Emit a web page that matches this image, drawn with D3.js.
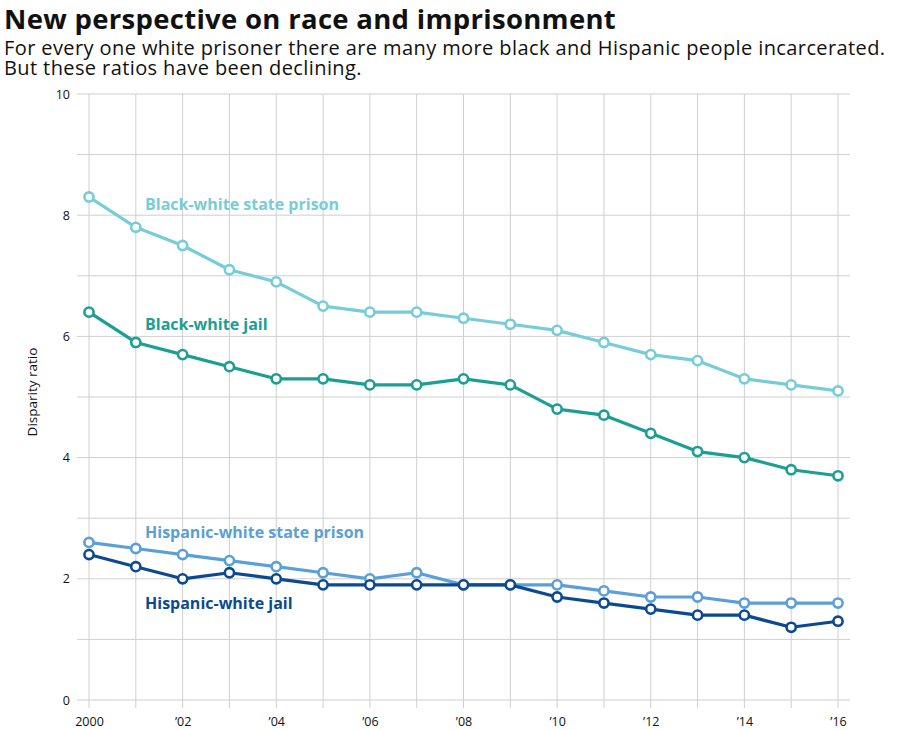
<!DOCTYPE html>
<html>
<head>
<meta charset="utf-8">
<script src="https://cdn.jsdelivr.net/npm/d3@7"></script>
<style>
  body { margin: 0; background: #fff; }
  text { font-family: "Open Sans", "Noto Sans", sans-serif; }
</style>
</head>
<body>
<div id="chart"></div>
<script>
// Data
const years = d3.range(2000, 2017);
const blackStatePrison = [8.3, 7.8, 7.5, 7.1, 6.9, 6.5, 6.4, 6.4, 6.3, 6.2, 6.1, 5.9, 5.7, 5.6, 5.3, 5.2, 5.1];
const blackJail = [6.4, 5.9, 5.7, 5.5, 5.3, 5.3, 5.2, 5.2, 5.3, 5.2, 4.8, 4.7, 4.4, 4.1, 4.0, 3.8, 3.7];
const hispStatePrison = [2.6, 2.5, 2.4, 2.3, 2.2, 2.1, 2.0, 2.1, 1.9, 1.9, 1.9, 1.8, 1.7, 1.7, 1.6, 1.6, 1.6];
const hispJail = [2.4, 2.2, 2.0, 2.1, 2.0, 1.9, 1.9, 1.9, 1.9, 1.9, 1.7, 1.6, 1.5, 1.4, 1.4, 1.2, 1.3];
const seriesNames = ["Black-white state prison", "Black-white jail", "Hispanic-white state prison", "Hispanic-white jail"];
const yTicks = [0, 2, 4, 6, 8, 10];
const xTickLabels = ["2000", "\u201902", "\u201904", "\u201906", "\u201908", "\u201910", "\u201912", "\u201914", "\u201916"];

const series = [
  { name: seriesNames[0], values: blackStatePrison, color: "#76cdd8", labelAt: 8.09 },
  { name: seriesNames[1], values: blackJail, color: "#1b9e94", labelAt: 6.1 },
  { name: seriesNames[2], values: hispStatePrison, color: "#5b9fd9", labelAt: 2.67 },
  { name: seriesNames[3], values: hispJail, color: "#0b4a91", labelAt: 1.5 }
];

// Dimensions
const width = 900;
const height = 730;

const svg = d3.select("#chart")
  .append("svg")
    .attr("width", width)
    .attr("height", height);

const xScale = d3.scaleLinear()
  .domain([2000, 2016])
  .range([89, 838]);
const yScale = d3.scaleLinear()
  .domain([0, 10])
  .range([700, 94]);

// Titles
svg.append("text")
  .attr("x", 4)
  .attr("y", 29)
  .attr("font-size", 27.5)
  .attr("font-weight", 700)
  .attr("letter-spacing", 0.3)
  .attr("fill", "#111")
  .text("New perspective on race and imprisonment");
const subtitle = svg.append("text")
  .attr("font-size", 20)
  .attr("letter-spacing", 0.4)
  .attr("fill", "#111");
subtitle.append("tspan")
  .attr("x", 4)
  .attr("y", 55)
  .text("For every one white prisoner there are many more black and Hispanic people incarcerated.");
subtitle.append("tspan")
  .attr("x", 4)
  .attr("y", 75)
  .text("But these ratios have been declining.");

// Grid
const grid = svg.append("g").attr("class", "grid");
grid.selectAll(".hline")
  .data(d3.range(0, 11))
  .join("line")
    .attr("x1", 77)
    .attr("x2", 850)
    .attr("y1", d => yScale(d))
    .attr("y2", d => yScale(d))
    .attr("stroke", "#cfcfcf")
    .attr("stroke-width", 1);
grid.selectAll(".vline")
  .data(years)
  .join("line")
    .attr("x1", d => xScale(d))
    .attr("x2", d => xScale(d))
    .attr("y1", yScale(10))
    .attr("y2", yScale(0) + 8)
    .attr("stroke", "#cfcfcf")
    .attr("stroke-width", 1);

// Axes
const leftAxis = d3.axisLeft(yScale)
  .tickValues(yTicks)
  .tickSize(0)
  .tickPadding(0)
  .tickFormat(d3.format("d"));
svg.append("g")
    .attr("class", "axis axis-y")
    .attr("transform", "translate(70, 0)")
    .call(leftAxis)
    .call(g => g.select(".domain").remove())
    .selectAll("text")
      .attr("font-size", 12.5)
      .attr("fill", "#111");

const bottomAxis = d3.axisBottom(xScale)
  .tickValues(d3.range(2000, 2017, 2))
  .tickSize(0)
  .tickPadding(0)
  .tickFormat((d, i) => xTickLabels[i]);
svg.append("g")
    .attr("class", "axis axis-x")
    .attr("transform", "translate(0, 717)")
    .call(bottomAxis)
    .call(g => g.select(".domain").remove())
    .selectAll("text")
      .attr("font-size", 12.5)
      .attr("fill", "#111");

svg.append("text")
  .attr("transform", "translate(37, 392) rotate(-90)")
  .attr("text-anchor", "middle")
  .attr("font-size", 13.5)
  .attr("fill", "#111")
  .text("Disparity ratio");

// Lines
const line = d3.line()
  .x((d, i) => xScale(years[i]))
  .y(d => yScale(d));

const groups = svg.append("g")
    .attr("class", "series")
  .selectAll(".line-group")
  .data(series)
  .join("g")
    .attr("class", "line-group");

groups.append("path")
    .attr("d", d => line(d.values))
    .attr("fill", "none")
    .attr("stroke", d => d.color)
    .attr("stroke-width", 3.2)
    .attr("stroke-linejoin", "round");

groups.selectAll("circle")
  .data(d => d.values.map(v => ({ v, color: d.color })))
  .join("circle")
    .attr("cx", (d, i) => xScale(years[i]))
    .attr("cy", d => yScale(d.v))
    .attr("r", 4.6)
    .attr("fill", "white")
    .attr("stroke", d => d.color)
    .attr("stroke-width", 2.6);

groups.append("text")
    .attr("x", 145)
    .attr("y", d => yScale(d.labelAt))
    .attr("font-size", 16)
    .attr("font-weight", 700)
    .attr("fill", d => d.color)
    .text(d => d.name);
</script>
</body>
</html>
